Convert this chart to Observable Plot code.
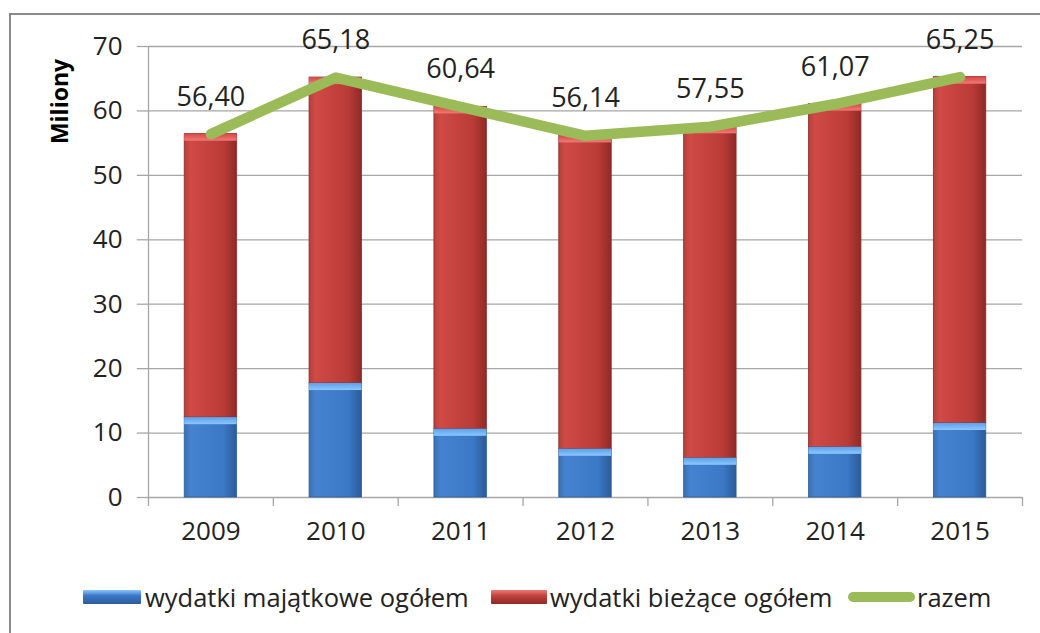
<!DOCTYPE html>
<html><head><meta charset="utf-8">
<script src="https://cdn.jsdelivr.net/npm/d3@7"></script>
<script src="https://cdn.jsdelivr.net/npm/@observablehq/plot@0.6"></script>
<style>
html,body{margin:0;padding:0;background:#fff;}
#wrap{position:relative;width:1040px;height:633px;overflow:hidden;font-family:"Open Sans",sans-serif;}
#frame{position:absolute;left:9px;top:13px;width:1100px;height:700px;border:2px solid #8a8a8a;box-sizing:border-box;}
#chart{position:absolute;left:0;top:0;}
.lg{position:absolute;top:581px;height:32px;line-height:32px;font-size:25.5px;color:#222;white-space:nowrap;}
.sw{position:absolute;top:590px;height:14px;border-radius:1px;}
.ln{position:absolute;top:592px;height:10px;border-radius:5px;background:#9bbb59;}
</style></head>
<body>
<div id="wrap">
<div id="frame"></div>
<div id="chart"></div>
<div id="legend"></div>
</div>
<script>
const years = [2009, 2010, 2011, 2012, 2013, 2014, 2015];
const majatkowe = [12.4, 17.7, 10.6, 7.5, 6.1, 7.8, 11.5];
const razem = [56.40, 65.18, 60.64, 56.14, 57.55, 61.07, 65.25];
const razemLabels = ["56,40", "65,18", "60,64", "56,14", "57,55", "61,07", "65,25"];
const yTicks = [0, 10, 20, 30, 40, 50, 60, 70];
const seriesNames = ["wydatki majątkowe ogółem", "wydatki bieżące ogółem", "razem"];

const rows = years.map((y, i) => ({
  year: y, maj: majatkowe[i], biez: +(razem[i] - majatkowe[i]).toFixed(2), total: razem[i], label: razemLabels[i]
}));
const halfBar = 0.21;
const boundaries = [years[0] - 0.5, ...years.map(y => y + 0.5)];

const chart = Plot.plot({
  width: 1040,
  height: 560,
  marginLeft: 148,
  marginRight: 18,
  marginTop: 46,
  marginBottom: 63,
  style: {fontFamily: "'Open Sans', sans-serif", fontSize: "24px", color: "#222", background: "transparent"},
  x: {domain: [years[0] - 0.5, years[years.length - 1] + 0.5], axis: null},
  y: {domain: [0, 70], axis: null},
  marks: [
    Plot.ruleY(yTicks, {stroke: "#a6a6a6", strokeWidth: 1.3}),
    Plot.rectY(rows, {x1: d => d.year - halfBar, x2: d => d.year + halfBar, y1: 0, y2: "maj", fill: "url(#gBlue)", stroke: "#2f5f96", strokeWidth: 0.8}),
    Plot.rectY(rows, {x1: d => d.year - halfBar, x2: d => d.year + halfBar, y1: "maj", y2: "total", fill: "url(#gRed)", stroke: "#8e2a27", strokeWidth: 0.8}),
    Plot.rectY(rows, {x1: d => d.year - halfBar, x2: d => d.year + halfBar, y1: d => d.maj - 1.1, y2: "maj", fill: "url(#gBlueTop)"}),
    Plot.rectY(rows, {x1: d => d.year - halfBar, x2: d => d.year + halfBar, y1: d => d.total - 1.1, y2: "total", fill: "url(#gRedTop)"}),
    Plot.ruleX([years[0] - 0.5], {y1: 0, y2: 70, stroke: "#a6a6a6", strokeWidth: 1.3}),
    Plot.ruleX(boundaries, {y1: 0, y2: -1.4, stroke: "#a6a6a6", strokeWidth: 1.3}),
    Plot.ruleY(yTicks, {x1: years[0] - 0.5, x2: years[0] - 0.59, stroke: "#a6a6a6", strokeWidth: 1.3}),
    Plot.axisY(yTicks, {tickSize: 0, tickPadding: 26, fontSize: 26, textAnchor: "end", label: null}),
    Plot.axisX(years, {tickSize: 0, tickPadding: 24, fontSize: 26, tickFormat: d => String(d), label: null}),
    Plot.line(rows, {x: "year", y: "total", stroke: "#9bbb59", strokeWidth: 10.5, strokeLinejoin: "round", strokeLinecap: "round"}),
    Plot.text(rows, {x: "year", y: "total", text: "label", dy: -37, fontSize: 27, fill: "#222"}),
    Plot.text(["Miliony"], {frameAnchor: "top-left", dx: -88, dy: 55, rotate: -90, textAnchor: "middle", lineAnchor: "middle", fontWeight: "bold", fontSize: 23, fill: "#000"})
  ]
});

const defs = document.createElementNS("http://www.w3.org/2000/svg", "defs");
defs.innerHTML = `
<linearGradient id="gBlue" x1="0" x2="1" y1="0" y2="0">
  <stop offset="0" stop-color="#3a6fb3"/><stop offset="0.12" stop-color="#4582cf"/>
  <stop offset="0.75" stop-color="#3b78c6"/><stop offset="1" stop-color="#2c5b98"/>
</linearGradient>
<linearGradient id="gRed" x1="0" x2="1" y1="0" y2="0">
  <stop offset="0" stop-color="#b5403c"/><stop offset="0.12" stop-color="#d04a46"/>
  <stop offset="0.75" stop-color="#b93b37"/><stop offset="1" stop-color="#8f2a27"/>
</linearGradient>
<linearGradient id="gBlueTop" x1="0" x2="0" y1="0" y2="1">
  <stop offset="0" stop-color="#5aa0ec"/><stop offset="1" stop-color="#8cc7ff"/>
</linearGradient>
<linearGradient id="gRedTop" x1="0" x2="0" y1="0" y2="1">
  <stop offset="0" stop-color="#d44844"/><stop offset="1" stop-color="#f07a76"/>
</linearGradient>`;
chart.insertBefore(defs, chart.firstChild);
document.getElementById("chart").appendChild(chart);

const legend = document.getElementById("legend");
legend.innerHTML = `
<span class="sw" style="left:83px;width:58px;background:linear-gradient(#8cc7ff,#3b78c6 40%,#2c5b98)"></span>
<span class="lg" style="left:145px">${seriesNames[0]}</span>
<span class="sw" style="left:491px;width:56px;background:linear-gradient(#f07a76,#c0433f 40%,#8f2a27)"></span>
<span class="lg" style="left:550px">${seriesNames[1]}</span>
<span class="ln" style="left:848px;width:67px"></span>
<span class="lg" style="left:917px">${seriesNames[2]}</span>`;
</script>
</body></html>
